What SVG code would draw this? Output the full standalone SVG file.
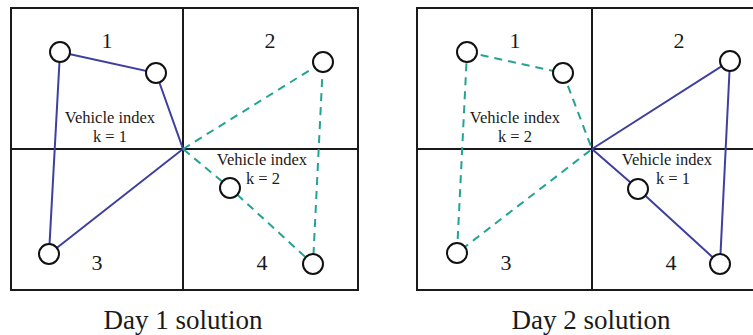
<svg xmlns="http://www.w3.org/2000/svg" width="753" height="335" viewBox="0 0 753 335">
  <style>
    .frame { fill: none; stroke: #1a1a1a; stroke-width: 2; }
    .route1 { stroke: #3f3f9f; stroke-width: 2; fill: none; }
    .route2 { stroke: #23a394; stroke-width: 2; fill: none; stroke-dasharray: 8 6; }
    .node circle { fill: #ffffff; stroke: #111111; stroke-width: 2; }
    .zone { font-family: "Liberation Serif", serif; font-size: 22px; fill: #1a1a1a; text-anchor: middle; }
    .veh { font-family: "Liberation Serif", serif; font-size: 16.5px; fill: #1a1a1a; text-anchor: middle; }
    .cap { font-family: "Liberation Serif", serif; font-size: 27px; fill: #1a1a1a; text-anchor: middle; }
  </style>

  <!-- Day 1 panel -->
  <g id="panel-day1">
    <rect class="frame" x="11" y="8" width="347" height="282"/>
    <line class="frame" x1="183" y1="8" x2="183" y2="290"/>
    <line class="frame" x1="11" y1="149" x2="358" y2="149"/>
    <text class="zone" x="107" y="48">1</text>
    <text class="zone" x="270" y="48">2</text>
    <text class="zone" x="97" y="270">3</text>
    <text class="zone" x="262" y="270">4</text>
  </g>

  <!-- Day 2 panel (right edge runs off the canvas) -->
  <g id="panel-day2">
    <path class="frame" d="M770 8 H417 V290 H770"/>
    <line class="frame" x1="592" y1="8" x2="592" y2="290"/>
    <line class="frame" x1="417" y1="149" x2="760" y2="149"/>
    <text class="zone" x="515" y="48">1</text>
    <text class="zone" x="679" y="48">2</text>
    <text class="zone" x="506" y="270">3</text>
    <text class="zone" x="671" y="270">4</text>
  </g>

  <!-- Routes -->
  <g id="connectors">
    <!-- Day 1, vehicle 1 (solid) -->
    <polyline class="route1" points="60,52 156,73 183,149 49,254 60,52"/>
    <!-- Day 1, vehicle 2 (dashed) -->
    <polyline class="route2" points="183,149 323,62 313,264 230,188 183,149"/>
    <!-- Day 2, vehicle 2 (dashed) -->
    <polyline class="route2" points="467,52 563,73 592,149 457,253 467,52"/>
    <!-- Day 2, vehicle 1 (solid) -->
    <polyline class="route1" points="592,149 730,61 720,264 638,189 592,149"/>
  </g>

  <!-- Customer nodes -->
  <g id="d1-n1" class="node"><circle cx="60" cy="52" r="10"/></g>
  <g id="d1-n2" class="node"><circle cx="156" cy="73" r="10"/></g>
  <g id="d1-n3" class="node"><circle cx="49" cy="254" r="10"/></g>
  <g id="d1-n4" class="node"><circle cx="323" cy="62" r="10"/></g>
  <g id="d1-n5" class="node"><circle cx="230" cy="188" r="10"/></g>
  <g id="d1-n6" class="node"><circle cx="313" cy="264" r="10"/></g>

  <g id="d2-n1" class="node"><circle cx="467" cy="52" r="10"/></g>
  <g id="d2-n2" class="node"><circle cx="563" cy="73" r="10"/></g>
  <g id="d2-n3" class="node"><circle cx="457" cy="253" r="10"/></g>
  <g id="d2-n4" class="node"><circle cx="730" cy="61" r="10"/></g>
  <g id="d2-n5" class="node"><circle cx="638" cy="189" r="10"/></g>
  <g id="d2-n6" class="node"><circle cx="720" cy="264" r="10"/></g>

  <!-- Vehicle labels -->
  <g id="labels">
    <text class="veh" x="110" y="123">Vehicle index</text>
    <text class="veh" x="110" y="142">k = 1</text>
    <text class="veh" x="262" y="165">Vehicle index</text>
    <text class="veh" x="263" y="184">k = 2</text>
    <text class="veh" x="515" y="123">Vehicle index</text>
    <text class="veh" x="515" y="142">k = 2</text>
    <text class="veh" x="667" y="165">Vehicle index</text>
    <text class="veh" x="673" y="184">k = 1</text>
  </g>

  <!-- Captions -->
  <text class="cap" x="183" y="329">Day 1 solution</text>
  <text class="cap" x="591" y="329">Day 2 solution</text>
</svg>
